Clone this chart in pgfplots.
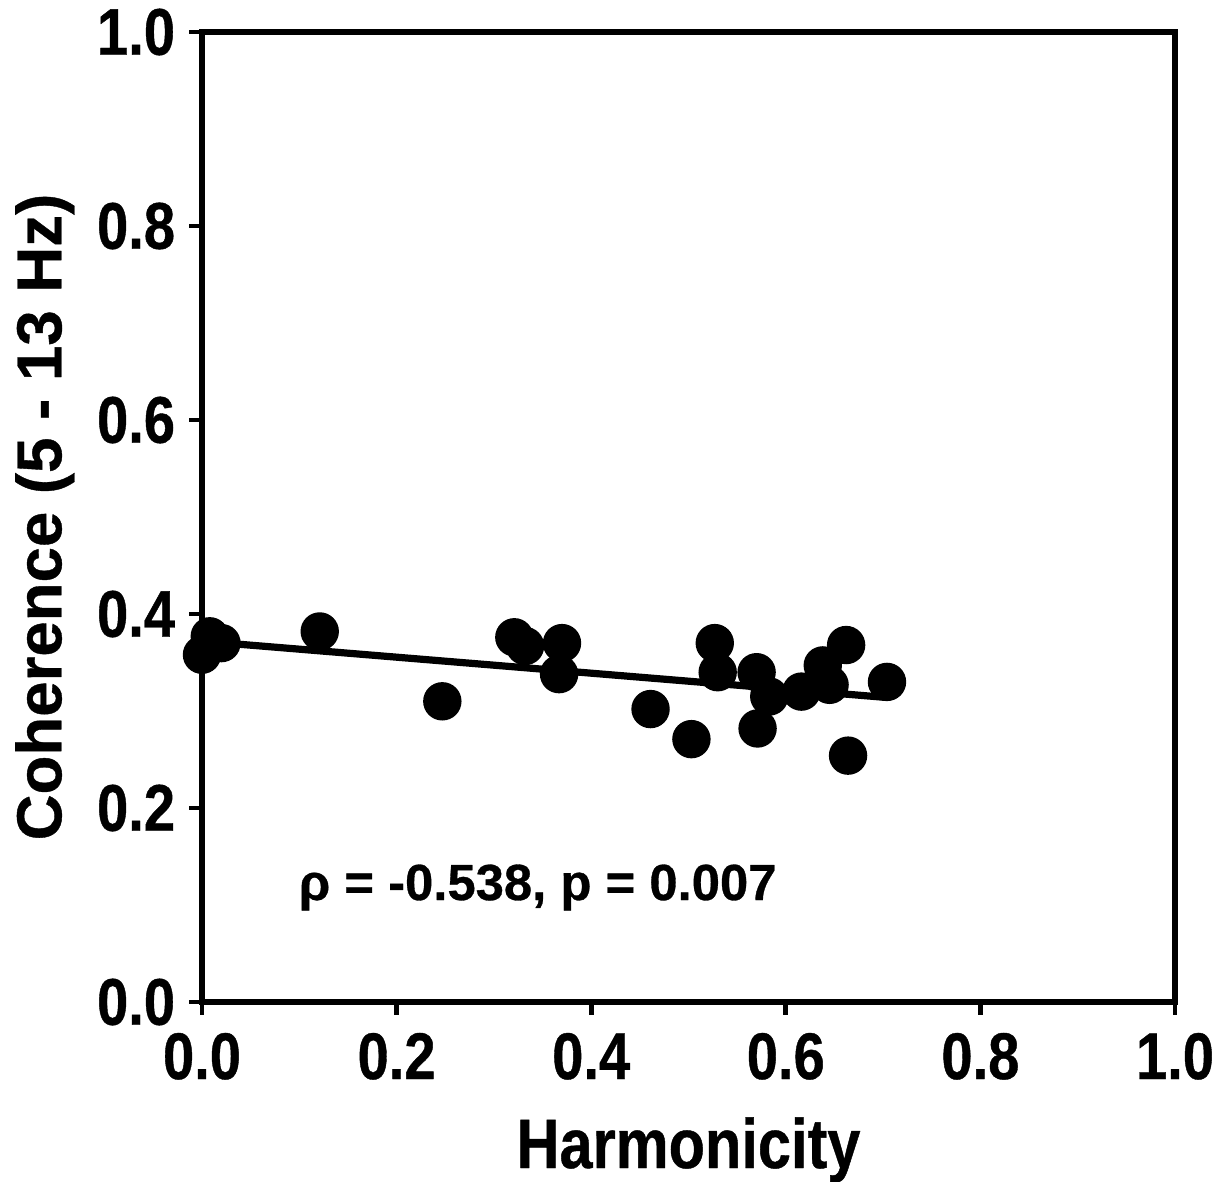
\documentclass[border=0pt]{standalone}
\usepackage{fontspec}
\setmainfont{Liberation Sans}[BoldFeatures={FakeBold=0.6}]
\newfontfamily\narrow{Liberation Sans}[FakeStretch=0.85, BoldFeatures={FakeBold=0.6}]
\usepackage{pgfplots}
\pgfplotsset{compat=1.18}
\begin{document}
\begin{tikzpicture}
\begin{axis}[
  name=ax,
  scale only axis,
  width=243.25pt, height=242.5pt,
  xmin=0, xmax=1, ymin=0, ymax=1,
  xtick={0,0.2,...,1.0}, ytick={0,0.2,...,1.0},
  axis line style={line width=1.4pt},
  every tick/.style={line width=1.2pt, black},
  tick align=outside, tick pos=left,
  major tick length=3.2pt,
  /pgf/number format/assume math mode=true,
  /pgf/number format/fixed, /pgf/number format/fixed zerofill, /pgf/number format/precision=1,
  tick label style={font=\narrow\fontsize{16.5}{18}\selectfont\bfseries},
  xticklabel style={yshift=-1pt},
  xlabel={Harmonicity},
  ylabel={Coherence (5 - 13 Hz)},
  xlabel style={font=\narrow\fontsize{17.5}{20}\selectfont\bfseries, at={(axis description cs:0.5,-0.1525)}, anchor=center},
  ylabel style={font=\fontsize{15.9}{18}\selectfont\bfseries, at={(axis description cs:-0.1615,0.5)}, anchor=center},
  clip=false,
]
\addplot[only marks, mark=*, mark size=4.6pt, black] coordinates {
(0.000,0.358) (0.008,0.377) (0.020,0.370) (0.121,0.382) (0.247,0.310)
(0.321,0.376) (0.332,0.367) (0.370,0.370) (0.367,0.338) (0.461,0.302)
(0.503,0.271) (0.527,0.370) (0.530,0.340) (0.570,0.340) (0.571,0.282)
(0.583,0.315) (0.616,0.320) (0.638,0.347) (0.645,0.327) (0.662,0.368)
(0.664,0.254) (0.704,0.330)
};
\addplot[black, line width=1.8pt] coordinates {(0,0.372) (0.703,0.314)};
\node[font=\fontsize{12.7}{14}\selectfont\bfseries] at (axis cs:0.345,0.118) {ρ = -0.538, p = 0.007};
\end{axis}
\pgfresetboundingbox
\path ([xshift=-50.5pt,yshift=-44.75pt]ax.south west) rectangle ([xshift=14.25pt,yshift=8pt]ax.north east);
\end{tikzpicture}
\end{document}
